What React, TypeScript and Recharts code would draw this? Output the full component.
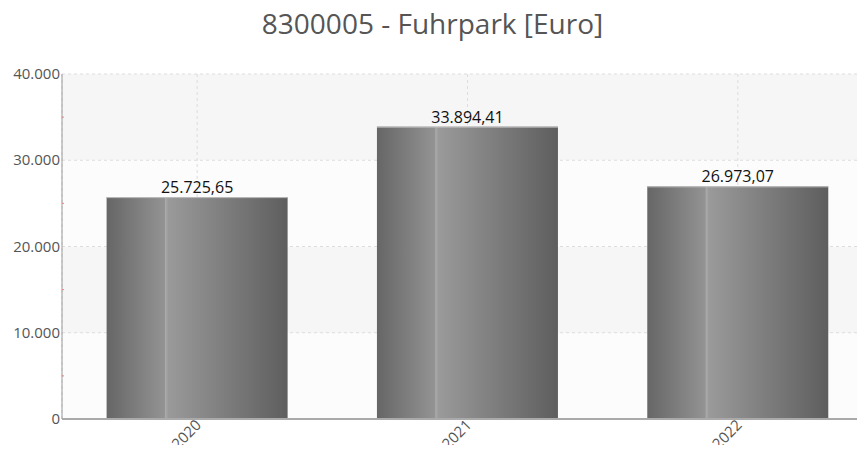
import React from 'react';
import { BarChart, Bar, XAxis, YAxis, CartesianGrid, LabelList } from 'recharts';

const categories = ['2020', '2021', '2022'];
const values = [25725.65, 33894.41, 26973.07];
const yTicks = [0, 5000, 10000, 15000, 20000, 25000, 30000, 35000, 40000];
const majorTicks = [0, 10000, 20000, 30000, 40000];
const title = '8300005 - Fuhrpark [Euro]';

const data = categories.map((c, i) => ({ year: c, value: values[i] }));

const fmtInt = (v: number) => v.toLocaleString('de-DE');
const fmtVal = (v: number) =>
  v.toLocaleString('de-DE', { minimumFractionDigits: 2, maximumFractionDigits: 2 });

const FONT = "'Open Sans', 'Noto Sans', sans-serif";

const YTick = (props: any) => {
  const { x, y, payload } = props;
  const v = payload.value;
  if (majorTicks.includes(v)) {
    return (
      <text x={x + 6} y={y} dy={5} textAnchor="end" fill="#555" fontSize={15} fontFamily={FONT}>
        {fmtInt(v)}
      </text>
    );
  }
  return <line x1={x + 8} x2={x + 10} y1={y} y2={y} stroke="#f08080" strokeWidth={1} />;
};

const XTick = (props: any) => {
  const { x, y, payload } = props;
  const ax = x + 5;
  const ay = y - 1;
  return (
    <text
      x={ax}
      y={ay}
      textAnchor="end"
      fill="#555"
      fontSize={15}
      fontFamily={FONT}
      transform={`rotate(-45, ${ax}, ${ay})`}
    >
      {payload.value}
    </text>
  );
};

const BarShape = (props: any) => {
  const { x, y, width, height } = props;
  return (
    <g>
      <rect x={x} y={y} width={width} height={height} fill="url(#barGrad)" />
      <line x1={x} x2={x + width} y1={y + 0.5} y2={y + 0.5} stroke="#bdbdbd" strokeWidth={1} />
    </g>
  );
};

export default function App() {
  return (
    <div style={{ position: 'relative', width: 880, height: 453, margin: -8, overflow: 'hidden' }}>
      <div
        style={{
          position: 'absolute',
          top: 4,
          left: 0,
          width: 865,
          textAlign: 'center',
          fontFamily: FONT,
          fontSize: 28,
          color: '#555',
        }}
      >
        {title}
      </div>
      <BarChart
        width={880}
        height={453}
        data={data}
        margin={{ top: 74, right: 7, bottom: 0, left: 0 }}
        barCategoryGap="16.5%"
      >
        <defs>
          <linearGradient id="barGrad" x1="0" y1="0" x2="1" y2="0">
            <stop offset="0" stopColor="#666666" />
            <stop offset="0.32" stopColor="#939393" />
            <stop offset="0.325" stopColor="#ababab" />
            <stop offset="0.34" stopColor="#9a9a9a" />
            <stop offset="1" stopColor="#5e5e5e" />
          </linearGradient>
        </defs>
        <CartesianGrid
          strokeDasharray="3 3"
          stroke="#dddddd"
          horizontalValues={majorTicks}
          horizontalFill={['#f6f6f6', '#fcfcfc']}
          fillOpacity={1}
        />
        <XAxis
          dataKey="year"
          height={34}
          tick={<XTick />}
          tickLine={false}
          axisLine={{ stroke: '#aaaaaa', strokeWidth: 2 }}
          interval={0}
        />
        <YAxis
          width={62}
          domain={[0, 40000]}
          ticks={yTicks}
          interval={0}
          tick={<YTick />}
          tickLine={false}
          axisLine={{ stroke: '#999999' }}
        />
        <Bar dataKey="value" isAnimationActive={false} shape={<BarShape />}>
          <LabelList
            dataKey="value"
            position="top"
            offset={4}
            formatter={(v: any) => fmtVal(Number(v))}
            fill="#111"
            fontSize={16}
            fontFamily={FONT}
          />
        </Bar>
      </BarChart>
    </div>
  );
}
